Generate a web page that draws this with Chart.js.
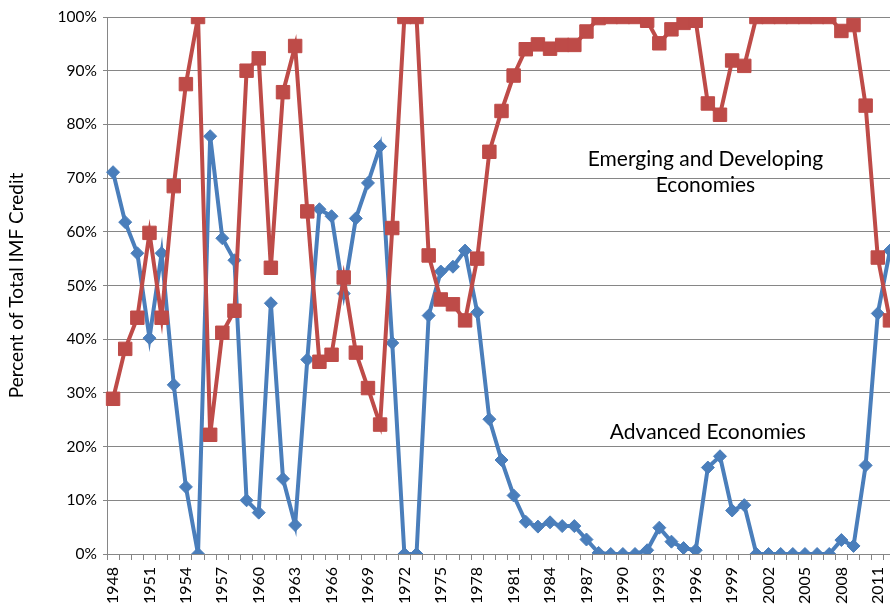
<!DOCTYPE html>
<html>
<head>
<meta charset="utf-8">
<script src="https://cdn.jsdelivr.net/npm/chart.js@4.4.1/dist/chart.umd.min.js"></script>
<style>
    html, body { margin: 0; padding: 0; width: 890px; height: 611px; overflow: hidden; background: #fff; }
    #wrap { position: absolute; left: 0; top: 0; width: 920px; height: 611px; }
</style>
</head>
<body>
<div id="wrap"><canvas id="chart" width="920" height="611"></canvas></div>
<script>
// --- Daten ---
const years = [1948, 1949, 1950, 1951, 1952, 1953, 1954, 1955, 1956, 1957,
    1958, 1959, 1960, 1961, 1962, 1963, 1964, 1965, 1966, 1967,
    1968, 1969, 1970, 1971, 1972, 1973, 1974, 1975, 1976, 1977,
    1978, 1979, 1980, 1981, 1982, 1983, 1984, 1985, 1986, 1987,
    1988, 1989, 1990, 1991, 1992, 1993, 1994, 1995, 1996, 1997,
    1998, 1999, 2000, 2001, 2002, 2003, 2004, 2005, 2006, 2007,
    2008, 2009, 2010, 2011, 2012];
const labeledYears = [1948, 1951, 1954, 1957, 1960, 1963, 1966, 1969, 1972, 1975, 1978,
    1981, 1984, 1987, 1990, 1993, 1996, 1999, 2002, 2005, 2008, 2011];
const advanced = [71.1, 61.8, 56.0, 40.2, 56.0, 31.5, 12.5, 0, 77.8, 58.8,
    54.7, 10.0, 7.7, 46.7, 14.0, 5.4, 36.2, 64.2, 62.9, 48.5,
    62.5, 69.1, 75.9, 39.3, 0, 0, 44.4, 52.6, 53.5, 56.5,
    45.0, 25.1, 17.5, 10.9, 6.0, 5.1, 5.9, 5.2, 5.2, 2.7,
    0.2, 0, 0, 0, 0.7, 4.9, 2.3, 1.1, 0.7, 16.1,
    18.2, 8.1, 9.1, 0, 0, 0, 0, 0, 0, 0,
    2.6, 1.5, 16.5, 44.8, 56.5];
const emerging = [28.9, 38.2, 44.0, 59.8, 44.0, 68.5, 87.5, 100, 22.2, 41.2,
    45.3, 90.0, 92.3, 53.3, 86.0, 94.6, 63.8, 35.8, 37.1, 51.5,
    37.5, 30.9, 24.1, 60.7, 100, 100, 55.6, 47.4, 46.5, 43.5,
    55.0, 74.9, 82.5, 89.1, 94.0, 94.9, 94.1, 94.8, 94.8, 97.3,
    99.8, 100, 100, 100, 99.3, 95.1, 97.7, 98.9, 99.3, 83.9,
    81.8, 91.9, 90.9, 100, 100, 100, 100, 100, 100, 100,
    97.4, 98.5, 83.5, 55.2, 43.5];

const FONT = "Lato, 'DejaVu Sans', sans-serif";
const GRID = "#868686";

// Beschriftungen im Diagramm
const labelPlugin = {
    id: "seriesLabels",
    afterDatasetsDraw(chart) {
        const { ctx, scales } = chart;
        ctx.save();
        ctx.fillStyle = "#000";
        ctx.font = "21px " + FONT;
        ctx.textAlign = "center";
        ctx.textBaseline = "middle";
        const xe = scales.x.getPixelForValue(48.8);
        ctx.fillText("Emerging and Developing", xe, scales.y.getPixelForValue(73.6));
        ctx.fillText("Economies", xe, scales.y.getPixelForValue(68.6));
        ctx.fillText("Advanced Economies", scales.x.getPixelForValue(49.0), scales.y.getPixelForValue(22.7));
        ctx.restore();
    },
};

const ctx = document.getElementById("chart").getContext("2d");

const chart = new Chart(ctx, {
    type: "line",
    data: {
        labels: years,
        datasets: [
            {
                label: "Emerging and Developing Economies",
                data: emerging,
                borderColor: "#BE4B48",
                backgroundColor: "#BE4B48",
                pointBackgroundColor: "#BE4B48",
                pointBorderColor: "#BE4B48",
                pointStyle: "rect",
                pointRadius: 9.5,
                pointBorderWidth: 1,
                borderWidth: 4,
                tension: 0,
            },
            {
                label: "Advanced Economies",
                data: advanced,
                borderColor: "#4A7EBB",
                backgroundColor: "#4A7EBB",
                pointBackgroundColor: "#4A7EBB",
                pointBorderColor: "#4A7EBB",
                pointStyle: "rectRot",
                pointRadius: 6.5,
                pointBorderWidth: 1,
                borderWidth: 4,
                tension: 0,
            },
        ],
    },
    options: {
        responsive: false,
        animation: false,
        devicePixelRatio: 1,
        layout: { padding: { top: 17, right: 24, left: 0, bottom: 0 } },
        plugins: {
            legend: { display: false },
            tooltip: { enabled: false },
        },
        scales: {
            x: {
                offset: true,
                grid: { display: true, drawOnChartArea: false, drawTicks: true, tickLength: 6, color: GRID, offset: true },
                border: { display: true, color: GRID, width: 1 },
                ticks: {
                    autoSkip: false,
                    maxRotation: 90,
                    minRotation: 90,
                    padding: 7,
                    color: "#000",
                    font: { family: FONT, size: 16 },
                    callback: (v, i) => (labeledYears.includes(years[i]) ? String(years[i]) : ""),
                },
                afterFit: (s) => { s.height = 57; },
            },
            y: {
                min: 0,
                max: 100,
                grid: { color: GRID, lineWidth: 1, tickLength: 4, drawTicks: true },
                border: { display: true, color: GRID, width: 1 },
                ticks: {
                    stepSize: 10,
                    padding: 6,
                    color: "#000",
                    font: { family: FONT, size: 15.5 },
                    callback: (v) => v + "%",
                },
                title: {
                    display: true,
                    text: "Percent of Total IMF Credit",
                    color: "#000",
                    font: { family: FONT, size: 19 },
                    padding: { top: 5, bottom: 0 },
                },
                afterFit: (s) => { s.width = 107; },
            },
        },
    },
    plugins: [labelPlugin],
});
</script>
</body>
</html>
